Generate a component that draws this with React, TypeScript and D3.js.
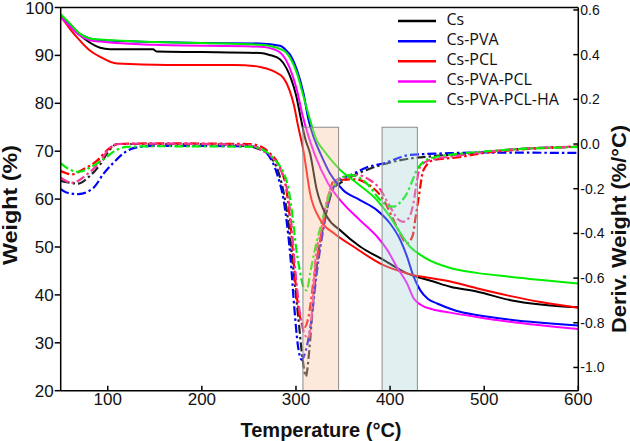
import React from "react";
import * as d3 from "d3";

type P = [number, number];

// TGA curves (left axis, Weight %)
const csTGA: P[] = [[50,98.3],[60,96.3],[70,94.3],[80,92.8],[92,91.6],[102,91.3],[148,91.3],[152,90.8],[200,90.7],[262,90.5],[272,90.1],[283,89.2],[290,87.3],[295,85],[300,81.8],[305,77],[310,72.5],[315,69.5],[322,62],[333,56.3],[347,53.5],[368,50.1],[393,47.3],[418,44.5],[446,42.8],[464,41.7],[492,40.7],[528,38.9],[560,38],[600,37.4]];
const csPvaTGA: P[] = [[50,98.5],[60,96.5],[70,94.5],[80,93.6],[92,93.2],[150,92.8],[200,92.6],[262,92.5],[283,92.0],[290,91.0],[294,90.1],[301,87],[308,82.1],[313,76.8],[319,72.8],[326,69.5],[336,65.4],[350,61.9],[368,59.8],[386,57.7],[400,54.9],[411,51.4],[418,48],[425,43.8],[432,41],[440,39.2],[450,38.2],[470,36.7],[492,35.8],[528,34.8],[600,33.6]];
const csPclTGA: P[] = [[50,98.2],[60,95.5],[70,93.2],[80,91.2],[92,89.7],[110,88.3],[163,88.0],[234,88.0],[262,87.6],[275,86.8],[287,85.2],[293,82.8],[298,79.5],[302,75.5],[308,70],[315,61.2],[326,55.6],[340,52.9],[361,50.1],[393,46.2],[418,44.5],[464,42.8],[492,41.4],[527,39.8],[560,38.5],[600,37.3]];
const csPvaPclTGA: P[] = [[50,98],[60,96],[70,94.2],[80,93.2],[92,92.9],[150,92.2],[262,91.8],[280,91],[290,88.8],[296,86],[301,82.8],[307,77.5],[313,73.3],[320,69.3],[334,63.3],[350,59.1],[368,55.6],[386,52.2],[397,49.4],[407,45.9],[418,42.4],[425,39.3],[432,38],[445,37],[464,36.3],[492,35.4],[527,34.4],[600,32.9]];
const csPvaPclHaTGA: P[] = [[50,98.6],[60,96.6],[70,94.6],[80,93.6],[92,93.3],[150,92.8],[262,92.2],[286,91.1],[294,89.4],[301,86.3],[308,81.4],[315,76.5],[322,72.3],[329,70.3],[347,66.1],[365,63.3],[386,59.8],[400,56.3],[411,52.9],[421,50.1],[435,48],[464,45.6],[492,44.6],[527,43.8],[600,42.4]];

// DTG curves (right axis, Deriv. Weight %/°C)
const csDTG: P[] = [[50,-0.165],[58,-0.172],[69,-0.177],[79,-0.15],[92,-0.091],[101,-0.032],[110,0.0],[150,0.0],[200,0.0],[250,-0.01],[262,-0.025],[270,-0.045],[279,-0.1],[285,-0.18],[291,-0.32],[297,-0.55],[303,-0.8],[307,-0.96],[310.5,-1.04],[314,-0.93],[318,-0.72],[322,-0.55],[331,-0.33],[340,-0.2],[347,-0.175],[357,-0.15],[375,-0.116],[411,-0.072],[446,-0.054],[492,-0.04],[528,-0.025],[600,-0.012]];
const csPvaDTG: P[] = [[50,-0.202],[56,-0.217],[69,-0.224],[85,-0.195],[95,-0.136],[106,-0.084],[120,-0.032],[131,-0.015],[150,-0.008],[250,-0.01],[262,-0.02],[269,-0.04],[280,-0.135],[287,-0.254],[290,-0.343],[294,-0.5],[298,-0.72],[302,-0.9],[306,-0.965],[310,-0.93],[316,-0.8],[322,-0.58],[330,-0.36],[338,-0.21],[347,-0.16],[358,-0.139],[375,-0.105],[393,-0.086],[421,-0.049],[457,-0.042],[492,-0.038],[600,-0.04]];
const csPclDTG: P[] = [[50,-0.121],[62,-0.136],[74,-0.113],[88,-0.077],[102,-0.018],[112,0.0],[150,0.003],[250,0.0],[262,-0.01],[272,-0.04],[283,-0.106],[290,-0.21],[294,-0.35],[298,-0.55],[302,-0.72],[306,-0.8],[309,-0.82],[313,-0.78],[319,-0.6],[326,-0.42],[334,-0.25],[340,-0.165],[350,-0.16],[363,-0.158],[375,-0.176],[393,-0.25],[407,-0.37],[413,-0.42],[418,-0.444],[424,-0.41],[427,-0.33],[430,-0.25],[435.5,-0.116],[446,-0.072],[475,-0.058],[492,-0.045],[528,-0.028],[600,-0.012]];
const csPvaPclDTG: P[] = [[50,-0.15],[62,-0.173],[78,-0.136],[92,-0.077],[102,-0.018],[112,0.0],[150,0.002],[250,-0.005],[265,-0.03],[280,-0.09],[290,-0.195],[294,-0.31],[299,-0.55],[304,-0.75],[309,-0.85],[313,-0.87],[317,-0.75],[321,-0.5],[326,-0.4],[333,-0.25],[343,-0.161],[354,-0.145],[365,-0.139],[378,-0.16],[389,-0.2],[400,-0.28],[408,-0.335],[414,-0.348],[420,-0.33],[425,-0.26],[428.5,-0.165],[432,-0.101],[440,-0.075],[455,-0.062],[475,-0.05],[492,-0.04],[528,-0.025],[600,-0.012]];
const csPvaPclHaDTG: P[] = [[50,-0.087],[60,-0.115],[69,-0.124],[81,-0.106],[95,-0.069],[110,-0.025],[120,-0.013],[150,-0.01],[250,-0.012],[262,-0.02],[275,-0.06],[290,-0.165],[296,-0.31],[300,-0.46],[304,-0.565],[308,-0.64],[311.5,-0.655],[315,-0.58],[320,-0.474],[329,-0.325],[336,-0.221],[340,-0.19],[349,-0.15],[358,-0.139],[367,-0.15],[375,-0.176],[389.5,-0.25],[398,-0.278],[404,-0.28],[411,-0.26],[418,-0.22],[424,-0.16],[428.5,-0.116],[435.5,-0.079],[446,-0.06],[460,-0.05],[492,-0.036],[528,-0.025],[600,-0.013]];

const seriesNames = ["Cs", "Cs-PVA", "Cs-PCL", "Cs-PVA-PCL", "Cs-PVA-PCL-HA"];
const tgaColors = ["#000000", "#0000ff", "#ff0000", "#ff00ff", "#00ee00"];
const dtgColors = ["#222222", "#0000ff", "#ff0000", "#ff3399", "#00ee00"];
const tgaData = [csTGA, csPvaTGA, csPclTGA, csPvaPclTGA, csPvaPclHaTGA];
const dtgData = [csDTG, csPvaDTG, csPclDTG, csPvaPclDTG, csPvaPclHaDTG];

const xTicks = [100, 200, 300, 400, 500, 600];
const leftTicks = [20, 30, 40, 50, 60, 70, 80, 90, 100];
const rightTicks = [-1.0, -0.8, -0.6, -0.4, -0.2, 0.0, 0.2, 0.4, 0.6];

// highlighted temperature ranges [from, to] and weight extent
const bands = [
  { x0: 307.4, x1: 345.3, fill: "#f7c4a2", opacity: 0.38 },
  { x0: 391.5, x1: 429, fill: "#a6d3d8", opacity: 0.35 },
];
const bandTop = 75;

const W = 630, H = 441;
const L = 60.7, R = 578.3, T = 7.5, B = 390.7;

export default function App() {
  const x = d3.scaleLinear().domain([50, 600]).range([L, R]);
  const yL = d3.scaleLinear().domain([20, 100]).range([B, T]);
  const yR = d3.scaleLinear().domain([-1.104, 0.611]).range([B, T]);

  const lineL = d3.line<P>().x(d => x(d[0])).y(d => yL(d[1])).curve(d3.curveMonotoneX);
  const lineR = d3.line<P>().x(d => x(d[0])).y(d => yR(d[1])).curve(d3.curveMonotoneX);

  const font = "'Liberation Sans', Arial, sans-serif";
  const legX0 = 398, legX1 = 436, legY0 = 21, legDy = 20.15;

  return (
    <svg width={W} height={H} style={{ position: "absolute", left: 0, top: 0, background: "#fff" }} fontFamily={font}>
      <rect x={0} y={0} width={W} height={H} fill="#fff" />
      <defs>
        <clipPath id="plot"><rect x={L} y={T} width={R - L} height={B - T} /></clipPath>
      </defs>
      <g clipPath="url(#plot)">
        {dtgData.map((d, i) => (
          <path key={"d" + i} d={lineR(d) || ""} fill="none" stroke={dtgColors[i]} strokeWidth={2.2}
            strokeDasharray="9,3,2.5,3" />
        ))}
        {tgaData.map((d, i) => (
          <path key={"t" + i} d={lineL(d) || ""} fill="none" stroke={tgaColors[i]} strokeWidth={2} />
        ))}
        {bands.map((b, i) => (
          <rect key={"b" + i} x={x(b.x0)} y={yL(bandTop)} width={x(b.x1) - x(b.x0)} height={yL(20) - yL(bandTop)}
            fill={b.fill} fillOpacity={b.opacity} stroke="#8c8c8c" strokeWidth={1} />
        ))}
      </g>

      {/* frame */}
      <line x1={L} x2={R} y1={T} y2={T} stroke="#000" strokeWidth={1.5} />
      <line x1={L} x2={R} y1={B} y2={B} stroke="#000" strokeWidth={1.5} />
      <line x1={L} x2={L} y1={T} y2={B} stroke="#000" strokeWidth={1.5} />
      <line x1={R} x2={R} y1={T} y2={B} stroke="#000" strokeWidth={1.5} />

      {/* x axis */}
      {xTicks.map(t => (
        <g key={"x" + t}>
          <line x1={x(t)} x2={x(t)} y1={B} y2={B - 5} stroke="#000" strokeWidth={1.5} />
          <text x={x(t)} y={405} textAnchor="middle" fontSize={17} fill="#111">{t}</text>
        </g>
      ))}
      {/* left axis */}
      {leftTicks.map(t => (
        <g key={"l" + t}>
          <line x1={L - 6} x2={L} y1={yL(t)} y2={yL(t)} stroke="#000" strokeWidth={1.5} />
          <text x={L - 7} y={yL(t) + 6} textAnchor="end" fontSize={17} fill="#111">{t}</text>
        </g>
      ))}
      {/* right axis */}
      {rightTicks.map(t => (
        <g key={"r" + t}>
          <line x1={R - 5} x2={R} y1={yR(t)} y2={yR(t)} stroke="#000" strokeWidth={1.5} />
          <text x={R + 2} y={yR(t) + 5} textAnchor="start" fontSize={14} fill="#111">{t.toFixed(1)}</text>
        </g>
      ))}

      {/* axis titles */}
      <text x={321} y={437} textAnchor="middle" fontSize={20} fontWeight="bold" fill="#111">Temperature (°C)</text>
      <text transform={`translate(17,205) rotate(-90)`} textAnchor="middle" fontSize={20} fontWeight="bold" fill="#111"
        textLength={120} lengthAdjust="spacingAndGlyphs">Weight (%)</text>
      <text transform={`translate(626,229) rotate(-90)`} textAnchor="middle" fontSize={20} fontWeight="bold" fill="#111"
        textLength={208} lengthAdjust="spacingAndGlyphs">Deriv. Weight (%/°C)</text>

      {/* legend */}
      {seriesNames.map((n, i) => (
        <g key={"lg" + i}>
          <line x1={legX0} x2={legX1} y1={legY0 + i * legDy} y2={legY0 + i * legDy} stroke={tgaColors[i]} strokeWidth={2.5} />
          <text x={446.5} y={legY0 + i * legDy + 3.5} fontSize={16} fill="#111" fontFamily="'Open Sans', sans-serif">{n}</text>
        </g>
      ))}
    </svg>
  );
}
